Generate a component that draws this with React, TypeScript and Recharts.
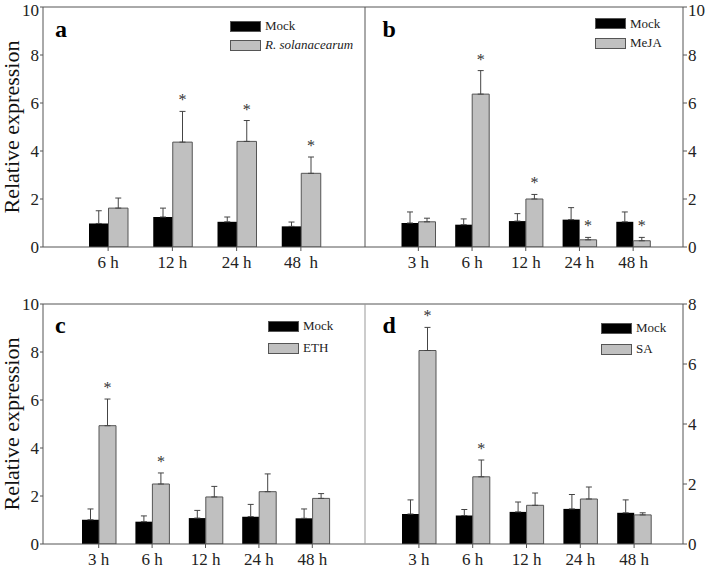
import React from 'react';
import { BarChart, Bar, XAxis, YAxis, ErrorBar, LabelList, Legend, Label } from 'recharts';

const FONT = 'Liberation Serif, Times New Roman, Times, DejaVu Serif, serif';
const AXIS = '#555';
const GRAY = '#c0c0c0';

// panel a: R. solanacearum
const timesA = ['6 h', '12 h', '24 h', '48\u00a0 h'];
const mockA = [0.98, 1.25, 1.05, 0.86];
const mockErrA = [0.53, 0.37, 0.2, 0.18];
const rsA = [1.62, 4.37, 4.4, 3.07];
const rsErrA = [0.42, 1.28, 0.87, 0.68];
const sigA = [false, true, true, true];

// panel b: MeJA
const timesB = ['3 h', '6 h', '12 h', '24 h', '48 h'];
const mockB = [1.0, 0.93, 1.08, 1.14, 1.05];
const mockErrB = [0.46, 0.24, 0.31, 0.5, 0.41];
const mejaB = [1.05, 6.37, 2.0, 0.3, 0.26];
const mejaErrB = [0.15, 0.98, 0.19, 0.1, 0.14];
const sigB = [false, true, true, true, true];

// panel c: ETH
const timesC = ['3 h', '6 h', '12 h', '24 h', '48 h'];
const mockC = [1.01, 0.93, 1.08, 1.14, 1.07];
const mockErrC = [0.45, 0.24, 0.32, 0.51, 0.39];
const ethC = [4.93, 2.5, 1.96, 2.18, 1.9];
const ethErrC = [1.11, 0.46, 0.44, 0.74, 0.2];
const sigC = [true, true, false, false, false];

// panel d: SA
const timesD = ['3 h', '6 h', '12 h', '24 h', '48 h'];
const mockD = [1.0, 0.95, 1.07, 1.17, 1.04];
const mockErrD = [0.47, 0.2, 0.33, 0.48, 0.43];
const saD = [6.45, 2.24, 1.29, 1.5, 0.97];
const saErrD = [0.77, 0.56, 0.41, 0.4, 0.07];
const sigD = [true, true, false, false, false];

const ticks10 = [0, 2, 4, 6, 8, 10];
const ticks8 = [0, 2, 4, 6, 8];

type Row = { t: string; mock: number; mockErr: number[]; trt: number; trtErr: number[]; sig: boolean };

const build = (
  times: string[], mock: number[], mockErr: number[], trt: number[], trtErr: number[], sig: boolean[]
): Row[] =>
  times.map((t, i) => ({
    t,
    mock: mock[i],
    mockErr: [0, mockErr[i]],
    trt: trt[i],
    trtErr: [0, trtErr[i]],
    sig: sig[i],
  }));

const serif = { fontFamily: FONT };

const starContent = (rows: Row[]) => (props: any) => {
  const vb = props.viewBox && props.viewBox.width != null ? props.viewBox : props;
  let idx = props.index;
  if (idx == null) idx = rows.findIndex((r) => r.trt === props.value);
  const row = rows[idx];
  if (!row || !row.sig) return null;
  const h = Math.abs(vb.height);
  const top = Math.min(vb.y, vb.y + vb.height);
  const errTop = top - (row.trtErr[1] * h) / row.trt;
  return (
    <text x={vb.x + vb.width / 2} y={errTop - 6} textAnchor="middle" fontSize={16} fill="#333" style={serif}>
      *
    </text>
  );
};

// keep Mock first, whatever order the legend hands us
const legendContent = (rowH: number, italic: boolean) => (props: any) => {
  const items = [...(props.payload || [])].sort((a: any, b: any) =>
    a.dataKey === 'mock' ? -1 : b.dataKey === 'mock' ? 1 : 0
  );
  return (
    <div style={{ fontFamily: FONT, fontSize: 13, color: '#222' }}>
      {items.map((p: any, i: number) => (
        <div key={i} style={{ display: 'flex', alignItems: 'center', height: rowH, whiteSpace: 'nowrap' }}>
          <span
            style={{
              display: 'inline-block',
              width: 31,
              height: 11,
              background: p.color,
              border: '1px solid #555',
              boxSizing: 'border-box',
              marginRight: 4,
            }}
          />
          <span style={{ fontStyle: italic && p.dataKey !== 'mock' ? 'italic' : 'normal' }}>{p.value}</span>
        </div>
      ))}
    </div>
  );
};

interface PanelProps {
  rows: Row[];
  trtName: string;
  italic?: boolean;
  letter: string;
  side: 'left' | 'right';
  left: number;
  top: number;
  width: number;
  height: number;
  margin: { top: number; right: number; bottom: number; left: number };
  xHeight: number;
  xTickMargin: number;
  yMax: number;
  yTicks: number[];
  xPad: { left: number; right: number };
  barSize: number;
  legendPos: { left: number; top: number };
  rowH: number;
  letterDx: number;
  letterDy: number;
  innerColor?: string;
}

const tickStyle = { fill: '#222', fontSize: 17, fontFamily: FONT, style: serif };

const Panel: React.FC<PanelProps> = (p) => {
  return (
    <div style={{ position: 'absolute', left: p.left, top: p.top }}>
      <BarChart
        width={p.width}
        height={p.height}
        data={p.rows}
        margin={p.margin}
        barGap={0}
        style={serif}
      >
        <XAxis
          dataKey="t"
          interval={0}
          padding={p.xPad}
          height={p.xHeight}
          tickSize={4}
          tickMargin={p.xTickMargin}
          tick={tickStyle}
          axisLine={{ stroke: AXIS }}
          tickLine={{ stroke: AXIS }}
        />
        <XAxis
          xAxisId="top"
          dataKey="t"
          orientation="top"
          height={1}
          padding={p.xPad}
          tick={false}
          tickLine={false}
          axisLine={{ stroke: AXIS }}
        >
          <Label
            content={(lp: any) => {
              const vb = lp.viewBox || {};
              return (
                <text
                  x={(vb.x ?? 0) + p.letterDx}
                  y={(vb.y ?? 0) + (vb.height ?? 0) + p.letterDy}
                  fontSize={24}
                  fontWeight="bold"
                  fill="#000"
                  style={serif}
                >
                  {p.letter}
                </text>
              );
            }}
          />
        </XAxis>
        {p.side === 'left' ? (
          <YAxis
            domain={[0, p.yMax]}
            ticks={p.yTicks}
            allowDataOverflow
            width={40}
            tickSize={3}
            tickMargin={1}
            tick={tickStyle}
            axisLine={{ stroke: AXIS }}
            tickLine={{ stroke: AXIS }}
          >
            <Label
              content={(lp: any) => {
                const vb = lp.viewBox || {};
                const cx = (vb.x ?? 0) + 8;
                const cy = (vb.y ?? 0) + (vb.height ?? 0) / 2;
                return (
                  <text
                    x={cx}
                    y={cy}
                    transform={`rotate(-90, ${cx}, ${cy})`}
                    textAnchor="middle"
                    dominantBaseline="central"
                    fontSize={22}
                    fill="#111"
                    style={serif}
                  >
                    Relative expression
                  </text>
                );
              }}
            />
          </YAxis>
        ) : (
          <YAxis
            yAxisId="inner"
            domain={[0, p.yMax]}
            ticks={p.yTicks}
            allowDataOverflow
            mirror
            width={1}
            tickSize={3}
            tick={false}
            axisLine={{ stroke: p.innerColor || AXIS }}
            tickLine={{ stroke: AXIS }}
          />
        )}
        {p.side === 'right' && (
          <YAxis
            orientation="right"
            domain={[0, p.yMax]}
            ticks={p.yTicks}
            allowDataOverflow
            width={26}
            tickSize={4}
            tickMargin={1}
            tick={tickStyle}
            axisLine={{ stroke: AXIS }}
            tickLine={{ stroke: AXIS }}
          />
        )}
        <Legend
          layout="vertical"
          align="center"
          verticalAlign="middle"
          wrapperStyle={{ left: p.legendPos.left, top: p.legendPos.top, width: 'auto' }}
          content={legendContent(p.rowH, !!p.italic)}
        />
        <Bar dataKey="mock" name="Mock" fill="#000" barSize={p.barSize} isAnimationActive={false}>
          <ErrorBar dataKey="mockErr" width={3} stroke="#444" strokeWidth={1} direction="y" />
        </Bar>
        <Bar
          dataKey="trt"
          name={p.trtName}
          fill={GRAY}
          stroke="#555"
          strokeWidth={1}
          barSize={p.barSize}
          isAnimationActive={false}
        >
          <ErrorBar dataKey="trtErr" width={3} stroke="#444" strokeWidth={1} direction="y" />
          <LabelList dataKey="trt" content={starContent(p.rows)} />
        </Bar>
      </BarChart>
    </div>
  );
};

const rowsA = build(timesA, mockA, mockErrA, rsA, rsErrA, sigA);
const rowsB = build(timesB, mockB, mockErrB, mejaB, mejaErrB, sigB);
const rowsC = build(timesC, mockC, mockErrC, ethC, ethErrC, sigC);
const rowsD = build(timesD, mockD, mockErrD, saD, saErrD, sigD);

export default function App() {
  return (
    <div style={{ position: 'absolute', left: 0, top: 0, width: 709, height: 570, background: '#fff', overflow: 'hidden' }}>
      <Panel
        rows={rowsA}
        trtName="R. solanacearum"
        italic
        letter="a"
        side="left"
        left={0}
        top={0}
        width={370}
        height={280}
        margin={{ top: 6, right: 5, bottom: 5, left: 3 }}
        xHeight={28}
        xTickMargin={5}
        yMax={10}
        yTicks={ticks10}
        xPad={{ left: 33, right: 32 }}
        barSize={19.5}
        legendPos={{ left: 230, top: 16.5 }}
        rowH={19}
        letterDx={12}
        letterDy={30}
      />
      <Panel
        rows={rowsB}
        trtName="MeJA"
        letter="b"
        side="right"
        left={356}
        top={0}
        width={353}
        height={280}
        margin={{ top: 6, right: 0, bottom: 5, left: 9 }}
        xHeight={28}
        xTickMargin={5}
        yMax={10}
        yTicks={ticks10}
        xPad={{ left: 26.5, right: 23 }}
        barSize={17}
        legendPos={{ left: 239, top: 14 }}
        rowH={19.5}
        letterDx={17.5}
        letterDy={30}
      />
      <Panel
        rows={rowsC}
        trtName="ETH"
        letter="c"
        side="left"
        left={0}
        top={280}
        width={370}
        height={290}
        margin={{ top: 23, right: 5, bottom: 2, left: 3 }}
        xHeight={24}
        xTickMargin={4.5}
        yMax={10}
        yTicks={ticks10}
        xPad={{ left: 29, right: 26 }}
        barSize={17}
        legendPos={{ left: 268, top: 35 }}
        rowH={22}
        letterDx={12}
        letterDy={29}
      />
      <Panel
        rows={rowsD}
        trtName="SA"
        letter="d"
        side="right"
        left={356}
        top={280}
        width={353}
        height={290}
        margin={{ top: 23, right: 0, bottom: 2, left: 9 }}
        xHeight={24}
        xTickMargin={4.5}
        yMax={8}
        yTicks={ticks8}
        xPad={{ left: 27, right: 22 }}
        barSize={17}
        legendPos={{ left: 245, top: 37.5 }}
        rowH={21}
        letterDx={17.5}
        letterDy={29}
        innerColor="#999"
      />
    </div>
  );
}
